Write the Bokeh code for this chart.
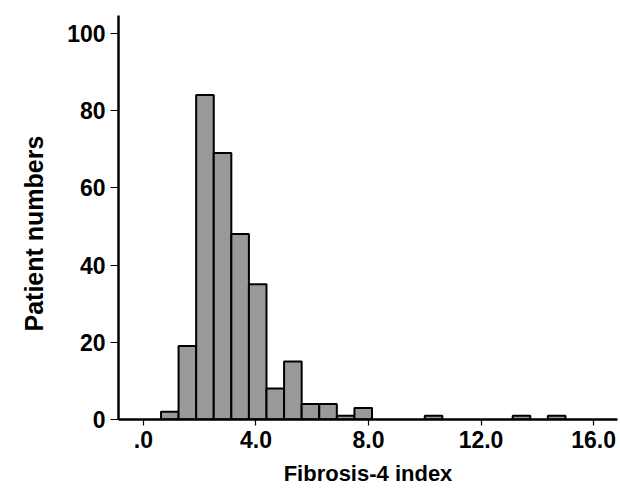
from bokeh.plotting import figure
from bokeh.models import FixedTicker, Range1d, Title
from bokeh.embed import file_html
from bokeh.resources import INLINE

# Histogram data: bin left edges (Fibrosis-4 index), bin width, counts
bin_left = [0.625, 1.25, 1.875, 2.5, 3.125, 3.75, 4.375, 5.0, 5.625, 6.25, 6.875, 7.5, 10.0, 13.125, 14.375]
bin_width = 0.625
counts = [2, 19, 84, 69, 48, 35, 8, 15, 4, 4, 1, 3, 1, 1, 1]

x_ticks = [0, 4, 8, 12, 16]
x_tick_labels = [".0", "4.0", "8.0", "12.0", "16.0"]
y_ticks = [0, 20, 40, 60, 80, 100]

FONT = "Liberation Sans"

p = figure(width=620, height=488, output_backend="svg", toolbar_location=None,
           x_range=Range1d(-0.885, 16.85), y_range=Range1d(0, 104.6),
           min_border_left=116, min_border_right=3, min_border_top=15, min_border_bottom=60)
p.outline_line_color = None
p.xgrid.visible = False
p.ygrid.visible = False
p.background_fill_color = "white"
p.border_fill_color = "white"

bin_right = [b + bin_width for b in bin_left]
p.quad(left=bin_left, right=bin_right, bottom=0, top=counts,
       fill_color="#999999", line_color="black", line_width=2)

for ax in (p.xaxis[0], p.yaxis[0]):
    ax.axis_line_width = 2.5
    ax.axis_line_color = "black"
    ax.major_tick_line_color = "black"
    ax.major_tick_line_width = 1.2
    ax.minor_tick_line_color = None
    ax.major_tick_in = 0
    ax.major_label_text_font = FONT
    ax.major_label_text_font_style = "bold"
    ax.major_label_text_font_size = "23px"
    ax.major_label_text_color = "black"
    ax.axis_label_text_font = FONT
    ax.axis_label_text_font_style = "bold"
    ax.axis_label_text_font_size = "22px"
    ax.axis_label_text_color = "black"

p.xaxis.ticker = FixedTicker(ticks=x_ticks)
p.xaxis.major_label_overrides = {t: l for t, l in zip(x_ticks, x_tick_labels)}
p.xaxis.major_tick_out = 6
p.xaxis.major_label_standoff = 5
p.xaxis.axis_label = "Fibrosis-4 index"
p.xaxis.axis_label_standoff = 10

p.yaxis.ticker = FixedTicker(ticks=y_ticks)
p.yaxis.major_tick_out = 8
p.yaxis.major_label_standoff = 5

# y axis title (sits a little below the frame centre in the original)
ytitle = Title(text="Patient numbers", align="left", offset=88, standoff=34,
               text_font=FONT, text_font_style="bold", text_font_size="25px",
               text_color="black")
p.add_layout(ytitle, "left")

open("out.html", "w").write(file_html(p, INLINE))
